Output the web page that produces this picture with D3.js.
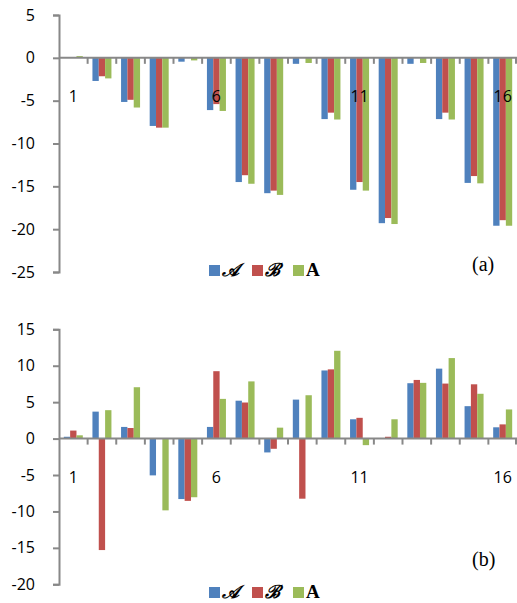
<!DOCTYPE html>
<html>
<head>
<meta charset="utf-8">
<script src="https://cdn.jsdelivr.net/npm/d3@7"></script>
<style>
  body { margin: 0; background: #fff; }
  text { font-family: "Open Sans", "Liberation Sans", sans-serif; }
</style>
</head>
<body>
<div id="chart"></div>
<script>
// categories and series
var categories = d3.range(1, 17).map(String);
var shownLabels = ["1", "6", "11", "16"];
var seriesNames = ["\u{1D49C}", "\u212C", "A"];
var colors = ["#4F81BD", "#C0504D", "#9BBB59"];

// panel (a)
var aA = [0, -2.7, -5.15, -7.95, -0.45, -6.1, -14.5, -15.8, -0.7, -7.15, -15.4, -19.3, -0.7, -7.15, -14.6, -19.6];
var aB = [0, -2.15, -4.9, -8.15, 0, -5.4, -13.7, -15.5, 0, -6.4, -14.5, -18.7, 0, -6.4, -13.8, -18.95];
var aC = [0.2, -2.4, -5.8, -8.15, -0.3, -6.2, -14.7, -16.0, -0.6, -7.2, -15.5, -19.4, -0.6, -7.2, -14.65, -19.6];
var aTicks = [5, 0, -5, -10, -15, -20, -25];

// panel (b)
var bA = [0.25, 3.7, 1.6, -5.05, -8.3, 1.6, 5.2, -1.9, 5.35, 9.35, 2.65, 0, 7.6, 9.6, 4.45, 1.55];
var bB = [1.1, -15.3, 1.45, 0, -8.55, 9.25, 4.95, -1.4, -8.25, 9.5, 2.85, 0.25, 8.05, 7.55, 7.45, 1.95];
var bC = [0.45, 3.9, 7.05, -9.85, -8.05, 5.45, 7.85, 1.5, 5.95, 12.05, -0.9, 2.65, 7.65, 11.05, 6.15, 4.0];
var bTicks = [15, 10, 5, 0, -5, -10, -15, -20];

var W = 517, H = 603;
var svg = d3.select("#chart").append("svg")
  .attr("width", W).attr("height", H);

function drawPanel(opts) {
  var g = svg.append("g");

  var y = d3.scaleLinear().domain(opts.domain).range([opts.bottom, opts.top]);
  var x0 = d3.scaleBand().domain(categories).range([59, 517]);
  var x1 = d3.scaleBand().domain(d3.range(3)).range([0, x0.bandwidth()])
    .paddingInner(0).paddingOuter(0.76);

  // bars
  var rows = categories.map((c, i) => ({cat: c, vals: opts.series.map(s => s[i])}));
  g.selectAll(".grp").data(rows).enter().append("g")
    .attr("transform", d => "translate(" + x0(d.cat) + ",0)")
    .selectAll("rect").data(d => d.vals).enter().append("rect")
    .attr("x", (d, j) => x1(j))
    .attr("width", x1.bandwidth())
    .attr("y", d => y(Math.max(0, d)))
    .attr("height", d => Math.abs(y(d) - y(0)))
    .attr("fill", (d, j) => colors[j]);

  // y axis
  var yAxis = d3.axisLeft(y).tickValues(opts.ticks).tickSize(6).tickPadding(18)
    .tickFormat(d => d < 0 ? "-" + Math.abs(d) : d);
  var ya = g.append("g").attr("transform", "translate(59,0)").call(yAxis);
  ya.select(".domain").attr("stroke", "#888").attr("stroke-width", 2);
  ya.selectAll(".tick line").attr("stroke", "#888").attr("stroke-width", 2);
  ya.selectAll(".tick text").attr("font-size", 16).attr("fill", "#000")
    .style("font-family", "'Open Sans', 'Liberation Sans', sans-serif");

  // zero line with category ticks
  var zero = y(0);
  g.append("line").attr("x1", 59).attr("x2", 517).attr("y1", zero).attr("y2", zero)
    .attr("stroke", "#888").attr("stroke-width", 2);
  g.selectAll(".ctick").data(categories.slice(1)).enter().append("line")
    .attr("x1", d => x0(d)).attr("x2", d => x0(d))
    .attr("y1", zero).attr("y2", zero + 6)
    .attr("stroke", "#888").attr("stroke-width", 2);
  g.append("line").attr("x1", 516).attr("x2", 516).attr("y1", zero).attr("y2", zero + 6)
    .attr("stroke", "#888").attr("stroke-width", 2);

  // category labels
  g.selectAll(".clab").data(shownLabels).enter().append("text")
    .attr("x", d => x0(d) + x0.bandwidth() / 2)
    .attr("y", zero + 44)
    .attr("text-anchor", "middle")
    .attr("font-size", 16)
    .text(d => d);

  // legend
  var lx = [209, 252, 293];
  var leg = g.append("g");
  seriesNames.forEach((n, j) => {
    leg.append("rect").attr("x", lx[j]).attr("y", opts.legendY)
      .attr("width", 11).attr("height", 11).attr("fill", colors[j]);
    var t = leg.append("text").attr("x", lx[j] + 13).attr("y", opts.legendY + 11)
      .text(n);
    if (j < 2) {
      t.attr("font-size", 18).attr("font-weight", "bold")
        .style("font-family", "'DejaVu Serif', serif").style("font-style", "italic");
    } else {
      t.attr("font-size", 19).attr("font-weight", "bold").style("font-family", "'Liberation Serif', serif");
    }
  });

  // panel tag
  g.append("text").attr("x", 472).attr("y", opts.tagY)
    .attr("font-size", 20).style("font-family", "'Liberation Serif', serif")
    .text(opts.tag);
}

drawPanel({series: [aA, aB, aC], domain: [-25, 5], top: 15, bottom: 272,
  ticks: aTicks, legendY: 265, tag: "(a)", tagY: 271});
drawPanel({series: [bA, bB, bC], domain: [-20, 15], top: 329.3, bottom: 584.3,
  ticks: bTicks, legendY: 587, tag: "(b)", tagY: 566});
</script>
</body>
</html>
